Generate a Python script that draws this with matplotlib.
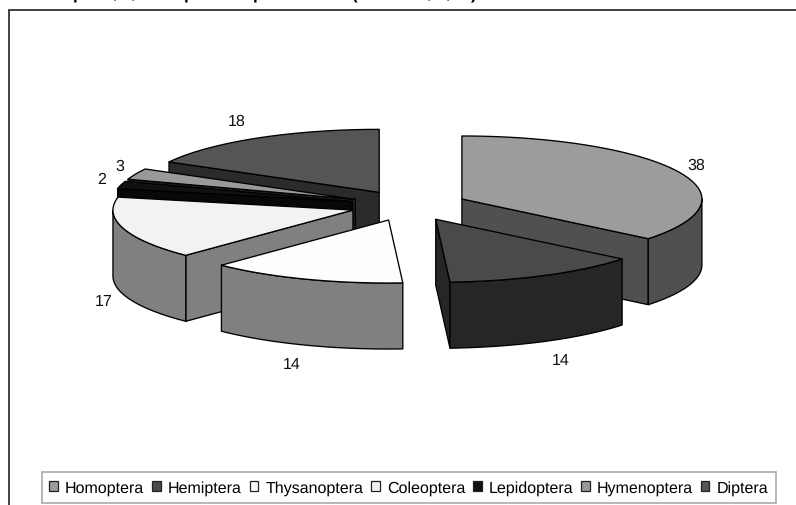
import numpy as np
import matplotlib
matplotlib.use('Agg')
from matplotlib import pyplot as plt
from matplotlib.patches import Patch, Polygon

plt.rcParams['font.family'] = ['Liberation Sans', 'DejaVu Sans']
plt.rcParams['text.hinting'] = 'none'
plt.rcParams['text.hinting_factor'] = 1

# data, clockwise from 12 o'clock
orders = ['Homoptera', 'Hemiptera', 'Thysanoptera', 'Coleoptera', 'Lepidoptera', 'Hymenoptera', 'Diptera']
counts = [38, 14, 14, 17, 2, 3, 18]

top_colors = ['#9c9c9c', '#4a4a4a', '#fdfdfd', '#f2f2f2', '#111111', '#999999', '#555555']
side_colors = ['#505050', '#262626', '#808080', '#808080', '#080808', '#222222', '#2b2b2b']

# painter's order, back slices first
draw_order = [6, 5, 4, 0, 3, 1, 2]

label_pos = [(696, 165.5), (561, 360.5), (292, 364.5), (104, 301.5), (102, 179.5), (120, 166.5), (237, 121.5)]

# what is left of the cropped heading: only the descenders show
title_chars = ['p', ',', ',', 'p', 'p', '(', ',', ',', ')']
title_x = [78, 115, 133, 189, 258, 354, 429, 448, 474]

# pie geometry in pixels
CX, CY = 409, 206.6
RX, RY = 240, 63
DEPTH = 66
EXPLODE = 58.6


def point(cx, cy, angle):
    return cx + RX * np.sin(angle), cy - RY * np.cos(angle)


def add_poly(ax, xs, ys, color):
    ax.add_patch(Polygon(np.column_stack([xs, ys]), closed=True, facecolor=color,
                         edgecolor='black', linewidth=0.95, joinstyle='round'))


def radial_face(ax, cx, cy, angle, color):
    x, y = point(cx, cy, angle)
    add_poly(ax, [cx, x, x, cx], [cy, y, y + DEPTH, cy + DEPTH], color)


def draw_slice(ax, start, end, top_color, side_color):
    mid = (start + end) / 2
    cx = CX + EXPLODE * np.sin(mid)
    cy = CY - EXPLODE * RY / RX * np.cos(mid)

    # only faces turned to the viewer
    if np.sin(start) < -1e-9:
        radial_face(ax, cx, cy, start, side_color)
    if np.sin(end) > 1e-9:
        radial_face(ax, cx, cy, end, side_color)

    wall_start = max(start, np.pi / 2)
    wall_end = min(end, 3 * np.pi / 2)
    if wall_end > wall_start:
        a = np.linspace(wall_start, wall_end, 60)
        x, y = point(cx, cy, a)
        add_poly(ax, np.r_[x, x[::-1]], np.r_[y, y[::-1] + DEPTH], side_color)

    a = np.linspace(start, end, 80)
    x, y = point(cx, cy, a)
    add_poly(ax, np.r_[cx, x], np.r_[cy, y], top_color)


fig = plt.figure(figsize=(7.96, 5.06), dpi=100)
ax = fig.add_axes([0, 0, 1, 1])
ax.set_xlim(0, 796)
ax.set_ylim(506, 0)
ax.axis('off')

# chart frame, cut off on the right and at the bottom
ax.plot([8.5, 8.5, 796], [506, 10.5, 10.5], color='#333333', linewidth=1.3, solid_joinstyle='miter')

for ch, x in zip(title_chars, title_x):
    ax.text(x, -1.2, ch, fontsize=12.5, fontweight='bold', ha='center', va='baseline', clip_on=False)

edges = np.r_[0, np.cumsum(counts)] / np.sum(counts) * 2 * np.pi
for i in draw_order:
    draw_slice(ax, edges[i], edges[i + 1], top_colors[i], side_colors[i])

for count, (x, y) in zip(counts, label_pos):
    ax.text(x, y, str(count), fontsize=11.6, ha='center', va='center', color='#111111')

handles = [Patch(facecolor=c, edgecolor='#222222', linewidth=0.9) for c in top_colors]
leg = ax.legend(handles, orders, ncol=7, loc='center', bbox_to_anchor=(408.7, 488.5),
                bbox_transform=ax.transData, fontsize=11.3, frameon=True, fancybox=False,
                edgecolor='#aaaaaa', framealpha=1, handlelength=0.55, handleheight=0.55,
                handletextpad=0.45, columnspacing=0.5, borderpad=0.5, borderaxespad=0)
leg.get_frame().set_linewidth(1.2)

fig.savefig('out.png', dpi=100)
